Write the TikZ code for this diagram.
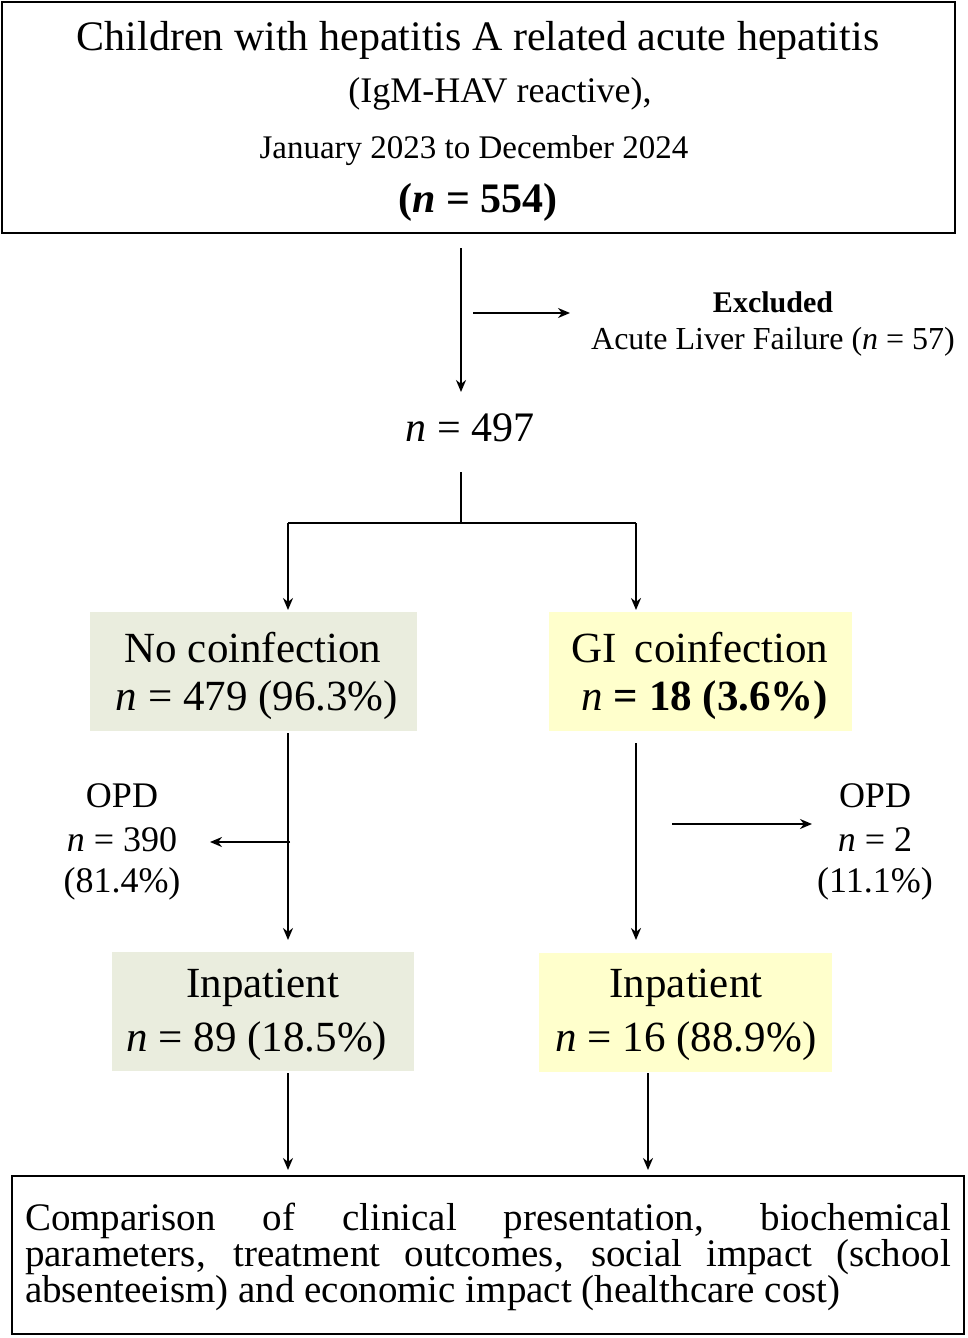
\documentclass[tikz,border=0pt]{standalone}
\usepackage{fontspec}
\setmainfont{Liberation Serif}
\usetikzlibrary{arrows.meta}
\begin{document}
\begin{tikzpicture}[x=1pt,y=-1pt,
  conn/.style={line width=2.4pt,-{Stealth[length=12pt,width=10pt]}},
  ln/.style={line width=2.4pt},
  fs/.style={font=\fontsize{#1}{#1}\selectfont}]
\definecolor{greenbox}{RGB}{234,237,222}
\definecolor{yellowbox}{RGB}{255,255,204}
\useasboundingbox (0,0) rectangle (968,1338);
\draw[line width=1.2pt] (2,2) rectangle (955,233);
\node[fs=42] (t1) at (478,40) {Children with hepatitis A related acute hepatitis};
\node[fs=36] (t2) at (500,94) {(IgM-HAV reactive),};
\node[fs=33] (t3) at (474,151) {January 2023 to December 2024};
\node[font=\bfseries\fontsize{42}{42}\selectfont] (t4) at (478,202) {(\textit{n} = 554)};
\coordinate (a0) at (461,248);
\node[fs=42] (n497) at (470,428) {\textit{n} = 497};
\draw[conn] (a0) -- (461,392);
\coordinate (e0) at (473,313);
\coordinate (e1) at (570,313);
\draw[conn] (e0) -- (e1);
\node[font=\bfseries\fontsize{30}{30}\selectfont] (ex) at (773,302) {Excluded};
\node[fs=32] (alf) at (773,342) {Acute Liver Failure (\textit{n} = 57)};
\coordinate (s0) at (461,472);
\coordinate (s1) at (461,523);
\draw[ln] (s0) -- (s1);
\draw[ln] (288,523) -- (636,523);
\fill[greenbox] (90,612) rectangle (417,731);
\fill[yellowbox] (549,612) rectangle (852,731);
\node[fs=43] (nc1) at (253,648) {No coinfection};
\node[fs=43] (nc2) at (257,700) {\textit{n} = 479 (96.3\%)};
\node[fs=43] (gi1) at (700,648) {GI\, coinfection};
\node[font=\bfseries\fontsize{43}{43}\selectfont] (gi2) at (705,700) {\textit{\mdseries n} = 18 (3.6\%)};
\draw[conn] (288,523) -- (288,610);
\draw[conn] (636,523) -- (636,610);
\draw[conn] (288,733) -- (288,940);
\draw[conn] (290,842) -- (210,842);
\node[fs=36] (opd1a) at (122,796) {OPD};
\node[fs=36] (opd1b) at (122,840) {\textit{n} = 390};
\node[fs=36] (opd1c) at (122,884) {(81.4\%)};
\draw[conn] (636,743) -- (636,940);
\draw[conn] (672,824) -- (812,824);
\node[fs=36] (opd2a) at (875,796) {OPD};
\node[fs=36] (opd2b) at (875,840) {\textit{n} = 2};
\node[fs=36] (opd2c) at (875,884) {(11.1\%)};
\fill[greenbox] (112,952) rectangle (414,1071);
\fill[yellowbox] (539,953) rectangle (832,1072);
\node[fs=43] (ip1) at (263,988) {Inpatient};
\node[fs=43] (ip1b) at (257,1041) {\textit{n} = 89 (18.5\%)};
\node[fs=43] (ip2) at (686,988) {Inpatient};
\node[fs=43] (ip2b) at (686,1041) {\textit{n} = 16 (88.9\%)};
\draw[conn] (288,1073) -- (288,1170);
\draw[conn] (648,1073) -- (648,1170);
\draw[line width=1.2pt] (12,1176) rectangle (964,1334);
\node[text width=926,align=justify,inner sep=0pt] (cmp) at (488,1257)
 {\fontsize{39}{48}\selectfont\hyphenpenalty=10000 Comparison of clinical presentation, biochemical\linebreak parameters, treatment outcomes, social impact (school\linebreak absenteeism) and economic impact (healthcare cost)};
\end{tikzpicture}
\end{document}
